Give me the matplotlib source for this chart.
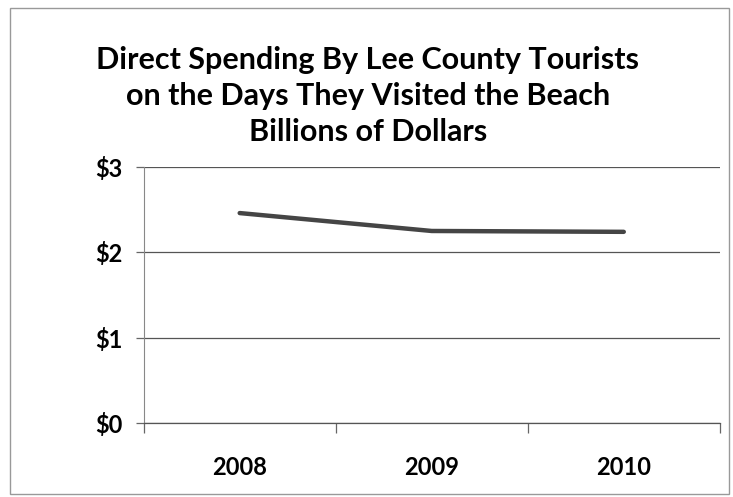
import matplotlib
matplotlib.use("Agg")
import matplotlib.pyplot as plt
from matplotlib.patches import Rectangle

years = ["2008", "2009", "2010"]
spending = [2.46, 2.25, 2.24]  # billions of dollars
y_ticks = [0, 1, 2, 3]
y_labels = ["$0", "$1", "$2", "$3"]

plt.rcParams["font.family"] = ["Lato", "DejaVu Sans"]

fig = plt.figure(figsize=(7.33, 4.97), dpi=100)
ax = fig.add_axes([0.196, 0.149, 0.786, 0.515])

x = list(range(len(years)))
ax.plot(x, spending, color="#454545", lw=3.2, solid_capstyle="round", zorder=3)

ax.set_xlim(-0.5, len(years) - 0.5)
ax.set_ylim(0, 3)
ax.set_yticks(y_ticks)
ax.set_yticklabels(y_labels, fontsize=17, fontweight="bold")
ax.grid(axis="y", color="#555555", lw=0.9)
ax.set_axisbelow(True)

# category boundaries as major ticks, labels in the middle
ax.set_xticks([i - 0.5 for i in range(len(years) + 1)])
ax.set_xticklabels([])
ax.set_xticks(x, minor=True)
ax.set_xticklabels(years, minor=True, fontsize=17, fontweight="bold")
ax.tick_params(axis="x", which="major", length=7, color="#666666", width=0.9)
ax.tick_params(axis="x", which="minor", length=0, pad=24)
ax.tick_params(axis="y", length=6, color="#666666", width=0.9, pad=9)

for s in ["top", "right"]:
    ax.spines[s].set_visible(False)
ax.spines["left"].set_color("#888888")
ax.spines["left"].set_linewidth(0.8)
ax.spines["bottom"].set_color("#555555")
ax.spines["bottom"].set_linewidth(0.9)

fig.text(0.502, 0.807,
         "Direct Spending By Lee County Tourists\non the Days They Visited the Beach\nBillions of Dollars",
         ha="center", va="center", fontsize=22, fontweight="bold", linespacing=1.34)

# chart border
fig.patches.append(Rectangle((0.013, 0.006), 0.982, 0.978, transform=fig.transFigure,
                             fill=False, edgecolor="#999999", lw=1.0))

fig.savefig("out.png", dpi=100)
